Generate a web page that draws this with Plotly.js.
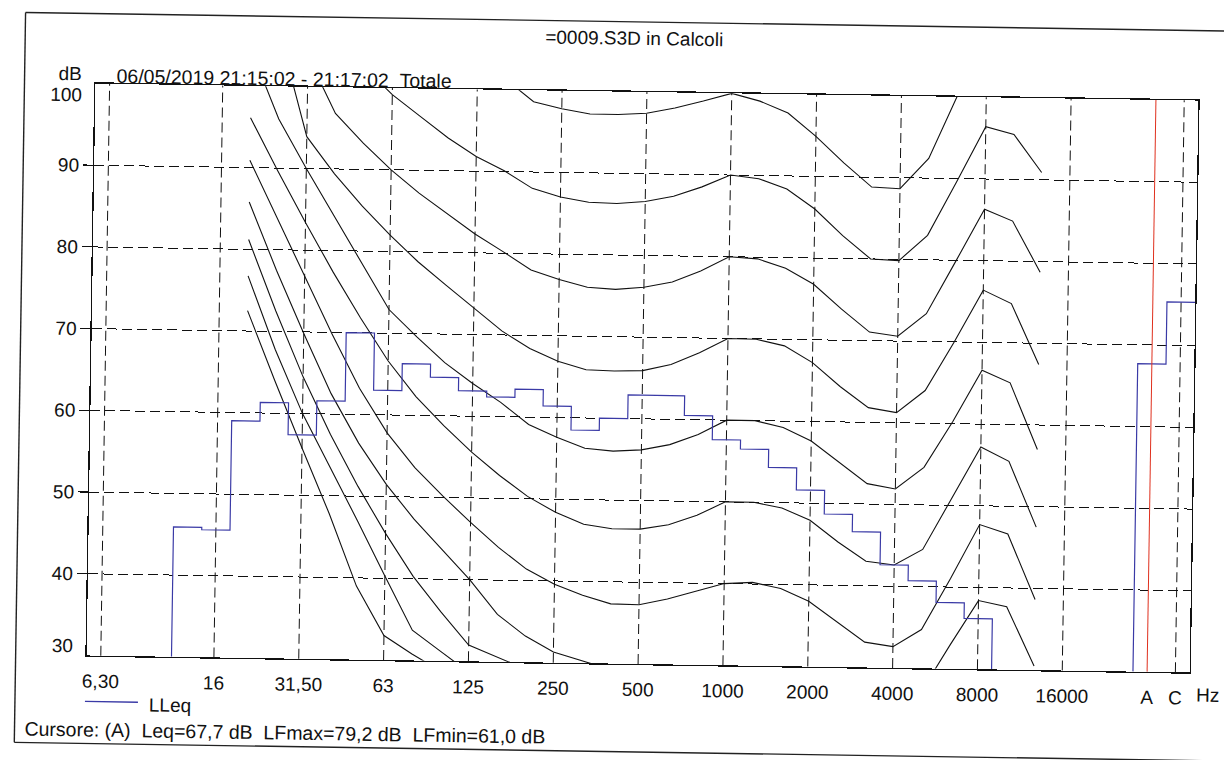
<!DOCTYPE html>
<html>
<head>
<meta charset="utf-8">
<script src="https://cdn.plot.ly/plotly-3.0.1.min.js"></script>
<style>
html,body{margin:0;padding:0;background:#fff;overflow:hidden;}
#chart{width:1224px;height:760px;transform:rotate(0.885deg);transform-origin:642px 378px;}
</style>
</head>
<body>
<div id="chart"></div>
<script>
// ---- categories: 1/3 octave bands (index 0..35), blank, A, C ----
const bandNames = ['6,3','8','10','12,5','16','20','25','31,5','40','50','63','80','100','125','160','200','250','315','400','500','630','800','1000','1250','1600','2000','2500','3150','4000','5000','6300','8000','10000','12500','16000','20000','','A','C'];
const tickIdx   = [0,4,7,10,13,16,19,22,25,28,31,34,37,38];
const tickText  = ['6,30','16','31,50','63','125','250','500','1000','2000','4000','8000','16000','A','C'];
const gridIdx   = [0,4,7,10,13,16,19,22,25,28,31,34,38];
const yGrid     = [40,50,60,70,80,90];

// ---- LLeq spectrum (12,5 Hz .. 8000 Hz) ----
const lleqStartIdx = 3;
const lleq = [45.9,45.6,59.0,61.3,57.4,61.6,70.0,63.0,66.3,64.7,63.1,62.4,63.4,61.4,58.5,60.0,62.9,62.9,60.5,57.6,56.5,54.3,51.6,48.7,46.6,42.6,40.7,38.1,36.2];
// ---- overall levels A, C ----
const totalIdx = [37,38];
const totalVals = [67.7,75.3];
const cursorIdx = 37;

// ---- isophone curves, 20 Hz .. 12500 Hz (band index 5..33) ----
const curveStartIdx = 5;
const phon0   = [72.5,64.0,55.8,47.8,39.0,33.0,30.8,28.8];
const phon10  = [76.75,67.8,60.0,53.5,47.0,40.3,33.7,31.2,28.7];
const phon20  = [81.2,72.5,64.5,57.5,51.2,45.5,40.3,36.0,32.0,30.6,29.2];
const phon30  = [85.8,77.5,69.8,62.5,56.5,51.5,47.3,43.6,40.0,35.8,33.2,31.3,30.3,29.3,null,null,null,null,null,null,null,null,null,null,27.0,32.8,38.4,37.7,30.5];
const phon40  = [90.9,83.8,76.8,69.8,63.2,57.8,53.6,50.2,47.0,44.0,41.4,39.6,38.3,37.3,37.25,38.0,39.0,40.0,40.2,39.5,38.0,35.6,33.1,32.6,34.75,41.05,47.7,46.6,38.65];
const phon50  = [96.1,89.6,83.4,77.4,71.8,66.6,62.3,58.8,55.6,52.8,50.3,48.4,47.0,46.5,46.5,47.1,48.3,50.0,50.0,49.35,47.9,45.3,43.0,42.6,44.55,50.9,57.2,55.5,47.5];
const phon60  = [104.3,96.0,90.0,84.3,78.6,72.9,69.6,66.5,64.0,61.75,59.1,57.6,56.3,56.0,56.2,56.9,58.2,60.0,60.0,59.2,57.6,55.0,52.5,51.9,54.6,60.3,66.6,65.1,57.0];
const phon70  = [null,106.3,93.9,89.4,85.5,82.0,78.8,76.0,73.3,70.5,68.4,66.9,65.9,65.8,65.9,66.7,68.2,70.0,69.95,69.2,67.2,64.3,61.8,61.25,64.0,70.0,76.4,74.8,67.4];
const phon80  = [null,null,103.7,96.8,93.2,90.0,87.2,84.7,82.3,80.2,78.0,76.9,76.0,75.8,76.1,76.8,78.2,80.0,79.8,78.7,76.8,73.8,71.05,70.6,73.4,79.8,86.3,84.9,78.7];
const phon90  = [null,null,null,null,102.5,99.2,96.6,94.0,91.8,90.1,88.0,87.0,86.4,86.3,86.6,87.3,88.5,90.0,89.6,88.4,86.0,82.8,80.0,79.85,83.0,89.6,96.4,95.5,90.9];
const phon100 = [null,null,null,null,null,null,null,null,103.5,101.3,98.6,97.8,97.2,97.2,97.4,98.1,99.0,100.0,99.1,97.7,94.9,91.7,88.8,88.65,92.4,100.3,106.0,105.0,101.0];
const curves = [phon0,phon10,phon20,phon30,phon40,phon50,phon60,phon70,phon80,phon90,phon100];

// ---- texts ----
const titleText  = '=0009.S3D in Calcoli';
const dateText   = '06/05/2019 21:15:02 - 21:17:02\u00A0\u00A0Totale';
const unitText   = 'dB';
const legendText = 'LLeq';
const cursorText = 'Cursore: (A)\u00A0\u00A0Leq=67,7 dB\u00A0\u00A0LFmax=79,2 dB\u00A0\u00A0LFmin=61,0 dB';

// ---- geometry ----
const M = {l:91, t:92, r:30, b:96};
const W = 1224, H = 760;
const PW = W - M.l - M.r, PH = H - M.t - M.b;
const px = v => (v - M.l) / PW;
const py = v => (M.t + PH - v) / PH;
const FONT = 'Liberation Sans, Arial, sans-serif';
const BLUE = '#3a3aa6';

const traces = [];
curves.forEach(c => {
  traces.push({
    x: c.map((_, k) => curveStartIdx + k), y: c,
    type: 'scatter', mode: 'lines', connectgaps: false,
    line: {color: '#111', width: 1.1}, hoverinfo: 'skip', showlegend: false
  });
});

// step outline for LLeq
const sx = [], sy = [];
sx.push(lleqStartIdx - 0.5); sy.push(30);
lleq.forEach((v, k) => { const i = lleqStartIdx + k; sx.push(i - 0.5, i + 0.5); sy.push(v, v); });
sx.push(lleqStartIdx + lleq.length - 0.5); sy.push(30);
sx.push(null); sy.push(null);
sx.push(totalIdx[0] - 0.5); sy.push(30);
totalVals.forEach((v, k) => { const i = totalIdx[k]; sx.push(i - 0.5, i + 0.5); sy.push(v, v); });
traces.push({x: sx, y: sy, type: 'scatter', mode: 'lines', connectgaps: false,
  line: {color: BLUE, width: 1.2}, showlegend: false, hoverinfo: 'skip'});

// cursor
traces.push({x: [cursorIdx, cursorIdx], y: [30, 100], type: 'scatter', mode: 'lines',
  line: {color: '#e0301e', width: 1}, showlegend: false, hoverinfo: 'skip'});

const shapes = [];
gridIdx.forEach(i => shapes.push({type: 'line', xref: 'x', yref: 'paper', x0: i, x1: i, y0: 0, y1: 1,
  line: {color: '#111', width: 1, dash: '10px,5px'}, layer: 'below'}));
// outer frame
const fr = {l: 20, t: 22, b: 752, r: 1320};
shapes.push({type: 'line', xref: 'paper', yref: 'paper', x0: px(fr.l), x1: px(fr.r), y0: py(fr.t), y1: py(fr.t), line: {color: '#222', width: 1.4}});
shapes.push({type: 'line', xref: 'paper', yref: 'paper', x0: px(fr.l), x1: px(fr.l), y0: py(fr.t), y1: py(fr.b), line: {color: '#222', width: 1.4}});
shapes.push({type: 'line', xref: 'paper', yref: 'paper', x0: px(fr.l), x1: px(fr.r), y0: py(fr.b), y1: py(fr.b), line: {color: '#222', width: 1.4}});
// legend sample
shapes.push({type: 'line', xref: 'paper', yref: 'paper', x0: px(90), x1: px(143), y0: py(710), y1: py(710), line: {color: BLUE, width: 1.3}});

const ann = (text, x, y, xa, size) => ({text, xref: 'paper', yref: 'paper', x: px(x), y: py(y),
  xanchor: xa, yanchor: 'middle', showarrow: false, font: {family: FONT, size: size || 19, color: '#111'}});
const annotations = [
  ann(titleText, 629, 39, 'center', 19),
  ann(unitText, 65, 83, 'center', 19),
  ann(dateText, 110, 84, 'left', 19.5),
  ann('100', 80, 104, 'right', 19),
  ann('30', 79, 654, 'right', 19),
  ann('Hz', 1212, 686, 'center', 19),
  ann(legendText, 152, 712, 'left', 19),
  ann(cursorText, 28, 738, 'left', 19.5)
];

const layout = {
  width: W, height: H, margin: M,
  paper_bgcolor: '#fff', plot_bgcolor: '#fff',
  showlegend: false,
  font: {family: FONT, size: 19, color: '#111'},
  xaxis: {range: [-0.5, 38.5], tickvals: tickIdx, ticktext: tickText, showgrid: false, zeroline: false,
    showline: true, mirror: true, linecolor: '#111', linewidth: 1.3, ticks: '', ticklabelstandoff: 8,
    tickfont: {family: FONT, size: 19, color: '#111'}, fixedrange: true},
  yaxis: {range: [30, 100], tickvals: yGrid, ticktext: yGrid.map(String), showgrid: true, gridcolor: '#111',
    gridwidth: 1, griddash: '10px,5px', zeroline: false, showline: true, mirror: true, linecolor: '#111',
    linewidth: 1.3, ticks: 'outside', ticklen: 10, tickcolor: '#111', tickwidth: 1.2,
    tickfont: {family: FONT, size: 19, color: '#111'}, fixedrange: true},
  shapes, annotations
};

Plotly.newPlot('chart', traces, layout, {displayModeBar: false, staticPlot: true});
</script>
</body>
</html>
